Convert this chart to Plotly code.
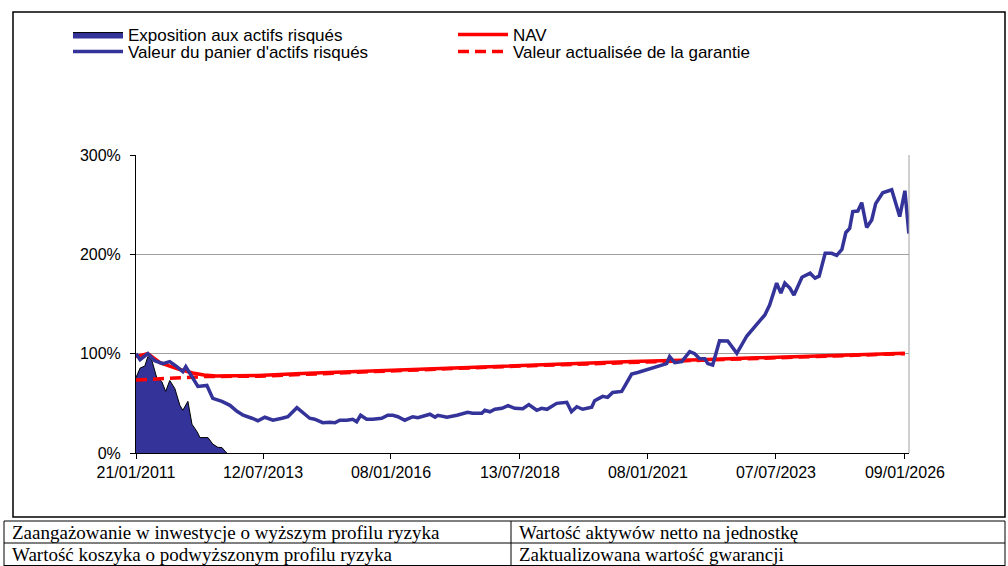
import plotly.graph_objects as go

# ---------------- data ----------------
basket_dates = [
    "2011-01-21", "2011-02-19", "2011-04-15", "2011-06-03", "2011-07-30", "2011-09-18",
    "2011-11-07", "2011-12-20", "2012-01-10", "2012-02-23", "2012-04-05", "2012-06-08",
    "2012-07-20", "2012-09-23", "2012-11-19", "2013-01-08", "2013-02-21", "2013-04-24",
    "2013-06-06", "2013-07-25", "2013-09-21", "2013-11-24", "2014-01-05", "2014-03-10",
    "2014-04-21", "2014-06-09", "2014-07-14", "2014-09-10", "2014-10-29", "2014-12-05",
    "2015-01-09", "2015-02-28", "2015-04-11", "2015-05-09", "2015-06-06", "2015-07-19",
    "2015-09-01", "2015-11-03", "2015-12-16", "2016-01-21", "2016-02-26", "2016-04-15",
    "2016-06-11", "2016-07-17", "2016-10-11", "2016-11-16", "2016-12-06", "2017-02-09",
    "2017-04-21", "2017-07-06", "2017-08-11", "2017-10-15", "2017-11-05", "2017-12-11",
    "2018-01-16", "2018-03-07", "2018-04-19", "2018-06-06", "2018-08-02", "2018-09-14",
    "2018-11-09", "2018-12-14", "2019-01-21", "2019-03-31", "2019-06-11", "2019-07-14",
    "2019-08-21", "2019-10-02", "2019-12-05", "2019-12-26", "2020-02-21", "2020-03-27",
    "2020-05-02", "2020-07-05", "2020-07-26", "2020-09-14", "2020-10-27", "2020-12-18",
    "2021-02-11", "2021-04-15", "2021-05-21", "2021-06-11", "2021-07-17", "2021-09-05",
    "2021-11-01", "2021-12-06", "2022-01-11", "2022-02-16", "2022-03-09", "2022-04-13",
    "2022-06-01", "2022-07-29", "2022-10-02", "2022-12-12", "2023-02-21", "2023-04-19",
    "2023-05-23", "2023-07-12", "2023-08-11", "2023-09-08", "2023-10-14", "2023-11-12",
    "2024-01-08", "2024-03-06", "2024-04-10", "2024-05-09", "2024-06-21", "2024-08-06",
    "2024-09-11", "2024-10-18", "2024-11-15", "2024-12-12", "2025-01-03", "2025-02-08",
    "2025-03-08", "2025-04-12", "2025-05-18", "2025-06-15", "2025-08-04", "2025-10-07",
    "2025-12-03", "2026-01-09", "2026-02-06",
]
basket_values = [
    100, 94, 100, 93, 90, 92,
    87, 82, 87, 77, 67, 68,
    55, 52, 48, 42, 38, 35,
    32.5, 36, 33, 35, 36.5, 45.6,
    41, 35, 34, 30.5, 31, 30.5,
    33, 33, 34, 31.5, 38, 34,
    34, 35, 38, 38, 36.5, 33,
    36.5, 35.5, 39, 36, 38, 36,
    38, 41, 40, 40, 43, 41.5,
    44, 45, 47.6, 45, 44.6, 48.7,
    43, 45, 44, 50, 51, 41.6,
    46.6, 44, 46, 52.7, 57, 56,
    61, 62, 67, 79.5, 81, 83.5,
    86, 88.6, 90, 97, 91, 92,
    102, 100, 95, 95, 90, 88.6,
    113, 112.8, 100.4, 117.8, 129, 139,
    149, 171, 161, 171, 166, 159,
    177, 181, 176, 178, 201, 201,
    199, 205, 222, 226, 243, 243.6,
    252, 227, 234.6, 251, 262, 265,
    238, 264, 221,
]

exposure_dates = [
    "2011-01-21", "2011-02-19", "2011-03-25", "2011-04-15", "2011-05-13", "2011-06-17",
    "2011-07-23", "2011-08-20", "2011-09-18", "2011-10-24", "2011-11-29", "2011-12-20",
    "2012-01-25", "2012-02-23", "2012-03-30", "2012-04-20", "2012-06-16", "2012-07-20",
    "2012-08-25", "2012-09-23", "2012-10-14", "2012-10-28",
]
exposure_values = [
    76, 85.5, 87.6, 97, 93.6, 76,
    72, 62, 73, 65, 48, 43,
    52, 29, 21.5, 15.5, 15.5, 9,
    5.7, 5.5, 2, 0,
]

nav_dates = [
    "2011-01-21", "2011-02-19", "2011-04-15", "2011-07-11", "2011-11-07", "2012-02-28",
    "2012-05-18", "2012-08-12", "2013-06-08", "2014-04-12", "2016-02-10", "2018-06-02",
    "2020-09-17", "2022-01-11", "2023-12-24", "2026-01-09",
]
nav_values = [97, 98, 100, 91, 85, 80.5, 78.5, 77.5, 78, 80, 83.5, 88, 92, 94, 97.5, 100.5]

guarantee_dates = [
    "2011-01-21", "2011-06-01", "2011-12-01", "2012-06-01", "2013-06-08", "2014-04-12",
    "2016-02-10", "2018-06-02", "2020-09-17", "2022-01-11", "2023-12-24", "2026-01-09",
]
guarantee_values = [73.5, 74.5, 76, 77, 77.3, 79.3, 82.8, 87.3, 91.3, 93.3, 96.8, 100]

tick_dates = ["2011-01-21", "2013-07-12", "2016-01-08", "2018-07-13",
              "2021-01-08", "2023-07-07", "2026-01-09"]
tick_labels = ["21/01/2011", "12/07/2013", "08/01/2016", "13/07/2018",
               "08/01/2021", "07/07/2023", "09/01/2026"]
y_ticks = [0, 100, 200, 300]
y_labels = ["0%", "100%", "200%", "300%"]

series_names = ["Exposition aux actifs risqués", "Valeur du panier d'actifs risqués",
                "NAV", "Valeur actualisée de la garantie"]
table_rows = [
    ["Zaangażowanie w inwestycje o wyższym profilu ryzyka", "Wartość aktywów netto na jednostkę"],
    ["Wartość koszyka o podwyższonym profilu ryzyka", "Zaktualizowana wartość gwarancji"],
]

# ---------------- figure ----------------
NAVY = "#333399"
RED = "#ff0000"
SANS = "Liberation Sans, Arial, sans-serif"
SERIF = "Liberation Serif, Times New Roman, serif"

W, H = 1008, 566
L, R, T, B = 136, 99, 155, 113
PW, PH = W - L - R, H - T - B


def px(x):
    return (x - L) / PW


def py(y):
    return (H - B - y) / PH


fig = go.Figure()
fig.add_trace(go.Scatter(
    x=exposure_dates, y=exposure_values, name=series_names[0], mode="lines",
    fill="tozeroy", fillcolor=NAVY, line=dict(color="black", width=1),
    legend="legend"))
fig.add_trace(go.Scatter(
    x=nav_dates, y=nav_values, name=series_names[2], mode="lines",
    line=dict(color=RED, width=3.5), legend="legend3"))
fig.add_trace(go.Scatter(
    x=guarantee_dates, y=guarantee_values, name=series_names[3], mode="lines",
    line=dict(color=RED, width=3.5, dash="11px,6px"), legend="legend4"))
fig.add_trace(go.Scatter(
    x=basket_dates, y=basket_values, name=series_names[1], mode="lines",
    line=dict(color=NAVY, width=3.5), legend="legend2"))

shapes = [
    # right border of plot area
    dict(type="line", xref="paper", yref="paper", x0=1, x1=1, y0=0, y1=1,
         line=dict(color="#a0a0a0", width=1)),
    # outer chart box
    dict(type="rect", xref="paper", yref="paper", x0=px(13), x1=px(1005),
         y0=py(517), y1=py(12), line=dict(color="black", width=1.5)),
    # table
    dict(type="line", xref="paper", yref="paper", x0=px(4), x1=px(1005), y0=py(521), y1=py(521),
         line=dict(color="black", width=1)),
    dict(type="line", xref="paper", yref="paper", x0=px(4), x1=px(1005), y0=py(543), y1=py(543),
         line=dict(color="black", width=1)),
    dict(type="line", xref="paper", yref="paper", x0=px(4), x1=px(1005), y0=py(565.5), y1=py(565.5),
         line=dict(color="black", width=1)),
    dict(type="line", xref="paper", yref="paper", x0=px(4), x1=px(4), y0=py(521), y1=py(566),
         line=dict(color="black", width=1)),
    dict(type="line", xref="paper", yref="paper", x0=px(511), x1=px(511), y0=py(521), y1=py(566),
         line=dict(color="black", width=1)),
    dict(type="line", xref="paper", yref="paper", x0=px(1005), x1=px(1005), y0=py(521), y1=py(566),
         line=dict(color="black", width=1)),
]

annotations = []
row_y = [532, 554]
col_x = [10, 517]
for r, row in enumerate(table_rows):
    for c, txt in enumerate(row):
        annotations.append(dict(
            text=txt, xref="paper", yref="paper", x=px(col_x[c]), y=py(row_y[r]),
            xanchor="left", yanchor="middle", showarrow=False,
            font=dict(family=SERIF, size=19, color="black")))

legend_common = dict(
    orientation="v", xanchor="left", yanchor="middle", bgcolor="rgba(0,0,0,0)",
    font=dict(family=SANS, size=17, color="black"), tracegroupgap=0,
    itemwidth=50, borderwidth=0)

fig.update_layout(
    width=W, height=H,
    margin=dict(l=L, r=R, t=T, b=B, pad=0),
    paper_bgcolor="white", plot_bgcolor="white",
    font=dict(family=SANS, size=16, color="black"),
    showlegend=True,
    legend=dict(x=px(68), y=py(35), **legend_common),
    legend2=dict(x=px(68), y=py(52), **legend_common),
    legend3=dict(x=px(453), y=py(35), **legend_common),
    legend4=dict(x=px(453), y=py(52), **legend_common),
    xaxis=dict(
        type="date", range=["2011-01-21", "2026-02-07"],
        tickmode="array", tickvals=tick_dates, ticktext=tick_labels,
        ticks="outside", ticklen=5, tickcolor="black", tickwidth=1,
        showline=True, linecolor="black", linewidth=1,
        showgrid=False, zeroline=False,
        tickfont=dict(family=SANS, size=16, color="black")),
    yaxis=dict(
        range=[0, 300], tickmode="array", tickvals=y_ticks, ticktext=y_labels,
        ticks="outside", ticklen=5, tickcolor="black", tickwidth=1,
        showline=True, linecolor="black", linewidth=1,
        showgrid=True, gridcolor="#a0a0a0", gridwidth=1, zeroline=False,
        ticklabelstandoff=6,
        tickfont=dict(family=SANS, size=16, color="black")),
    shapes=shapes,
    annotations=annotations,
)

fig.write_html("out.html", config={"displayModeBar": False},
               post_script="document.body.style.margin='0';")
